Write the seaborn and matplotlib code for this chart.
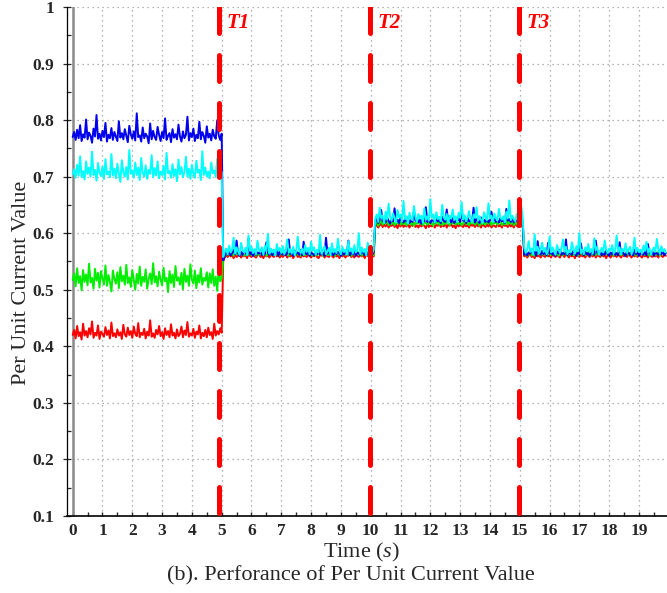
import numpy as np
import pandas as pd
import matplotlib
matplotlib.use('Agg')
import matplotlib.pyplot as plt
import seaborn as sns
from matplotlib.ticker import MultipleLocator

# ---------------------------------------------------------
# Per unit current (in 1/1000 p.u.), one sample every 0.05 s
# seg1: 0 - 5.00 s, seg2: 5.05 - 10.10 s, seg3: 10.15 - 15.10 s, seg4: 15.15 - 19.90 s
blue_seg1 = [770, 779, 765, 783, 768, 791, 763, 775, 769, 801, 766, 778, 772, 760, 785, 771, 809, 767, 776, 764,
             781, 770, 795, 762, 774, 768, 786, 765, 779, 771, 763, 798, 769, 777, 766, 784, 772, 761, 790, 775,
             767, 780, 764, 812, 770, 773, 762, 787, 768, 776, 771, 759, 794, 766, 781, 770, 765, 788, 774, 763,
             779, 768, 803, 765, 772, 777, 761, 784, 769, 775, 766, 792, 771, 762, 780, 768, 774, 806, 764, 777,
             770, 785, 763, 774, 768, 797, 766, 779, 772, 760, 789, 769, 776, 764, 783, 771, 767, 800, 773, 765,
             776]
blue_seg2 = [552, 560, 566, 562, 568, 561, 565, 571, 563, 587, 564, 560, 567, 562, 569, 565, 561, 591, 563, 566,
             560, 568, 562, 566, 564, 570, 561, 567, 563, 584, 565, 562, 569, 561, 566, 563, 572, 560, 567, 564,
             562, 568, 561, 565, 589, 563, 567, 560, 569, 564, 566, 562, 570, 561, 585, 565, 563, 568, 560, 566,
             564, 561, 567, 563, 571, 562, 566, 565, 560, 592, 564, 568, 562, 566, 561, 569, 563, 567, 565, 560,
             568, 562, 566, 564, 587, 561, 567, 563, 569, 560, 566, 564, 562, 570, 565, 561, 568, 563, 566, 564,
             562, 567]
blue_seg3 = [620, 627, 618, 624, 641, 621, 625, 619, 628, 622, 617, 626, 621, 644, 620, 624, 618, 627, 622, 619,
             625, 621, 628, 618, 623, 620, 639, 622, 626, 619, 624, 617, 627, 621, 646, 620, 625, 618, 623, 622,
             619, 626, 621, 624, 618, 629, 622, 620, 642, 621, 625, 619, 627, 618, 623, 621, 626, 620, 640, 622,
             624, 618, 627, 621, 623, 620, 645, 619, 625, 622, 618, 628, 621, 624, 620, 626, 619, 623, 638, 621,
             626, 620, 623, 619, 627, 621, 624, 618, 643, 622, 625, 620, 628, 619, 623, 621, 626, 618, 624, 622]
blue_seg4 = [562, 568, 561, 566, 564, 572, 563, 567, 560, 586, 565, 562, 569, 563, 566, 561, 583, 564, 567, 562,
             566, 560, 568, 564, 571, 562, 565, 563, 589, 561, 567, 564, 562, 569, 565, 560, 567, 563, 582, 566,
             561, 567, 563, 565, 560, 570, 564, 562, 587, 566, 563, 568, 561, 565, 562, 569, 564, 560, 566, 563,
             568, 562, 565, 561, 584, 564, 567, 563, 560, 569, 565, 562, 566, 561, 571, 563, 567, 560, 565, 564,
             562, 567, 561, 581, 565, 563, 568, 560, 566, 564, 562, 570, 563, 567, 561, 565]

cyan_seg1 = [704, 713, 698, 721, 702, 736, 699, 710, 695, 727, 705, 716, 700, 744, 703, 712, 693, 724, 707, 701,
             718, 696, 731, 704, 709, 699, 740, 702, 714, 697, 723, 706, 691, 729, 708, 700, 717, 695, 747, 705,
             711, 698, 725, 703, 716, 694, 733, 707, 700, 720, 696, 712, 705, 738, 699, 715, 702, 727, 697, 709,
             703, 719, 695, 742, 706, 710, 698, 722, 701, 713, 692, 730, 704, 717, 699, 708, 735, 700, 714, 696,
             721, 705, 698, 728, 707, 712, 694, 745, 703, 716, 700, 709, 697, 725, 706, 711, 699, 732, 704, 713,
             708]
cyan_seg2 = [558, 567, 573, 563, 578, 566, 571, 592, 564, 575, 568, 562, 583, 570, 566, 574, 561, 596, 569, 576,
             565, 572, 563, 587, 570, 567, 575, 562, 578, 568, 599, 564, 573, 566, 571, 561, 581, 569, 574, 565,
             577, 563, 570, 589, 566, 572, 564, 576, 561, 568, 594, 570, 565, 573, 562, 579, 567, 574, 563, 585,
             569, 575, 562, 571, 566, 597, 564, 570, 577, 563, 568, 574, 561, 582, 566, 572, 565, 590, 569, 563,
             576, 567, 571, 562, 586, 568, 573, 564, 579, 566, 570, 600, 563, 575, 567, 572, 561, 583, 569, 574,
             565, 571]
cyan_seg3 = [626, 633, 620, 645, 627, 631, 618, 638, 624, 652, 629, 622, 635, 626, 619, 641, 628, 633, 621, 657,
             625, 630, 617, 636, 627, 623, 648, 629, 620, 634, 626, 631, 618, 644, 624, 630, 622, 660, 627, 633,
             619, 637, 625, 629, 621, 650, 628, 624, 634, 618, 631, 626, 642, 623, 630, 620, 636, 627, 655, 624,
             632, 621, 628, 639, 625, 619, 633, 627, 646, 622, 630, 624, 618, 637, 629, 623, 653, 626, 631, 620,
             635, 627, 622, 643, 628, 624, 630, 619, 638, 626, 658, 623, 631, 625, 621, 634, 628, 624, 649, 627]
cyan_seg4 = [574, 565, 571, 586, 567, 573, 562, 598, 569, 576, 564, 571, 583, 567, 574, 563, 570, 594, 566, 575,
             568, 562, 579, 571, 565, 573, 589, 567, 576, 563, 570, 566, 584, 572, 564, 577, 568, 600, 565, 571,
             563, 575, 569, 581, 566, 572, 564, 591, 570, 576, 562, 568, 574, 566, 587, 571, 565, 573, 569, 579,
             564, 570, 596, 567, 575, 563, 572, 568, 582, 565, 571, 576, 563, 569, 592, 566, 574, 567, 571, 564,
             578, 569, 585, 566, 573, 562, 570, 575, 567, 590, 571, 564, 577, 568, 572, 566]

green_seg1 = [517, 529, 506, 538, 512, 524, 499, 535, 514, 527, 508, 546, 513, 521, 502, 537, 516, 530, 504, 533,
              520, 509, 543, 507, 526, 514, 497, 534, 519, 511, 531, 503, 540, 515, 525, 509, 544, 512, 522, 505,
              535, 517, 500, 528, 511, 541, 507, 523, 514, 536, 502, 519, 529, 510, 547, 513, 524, 506, 532, 518,
              508, 539, 515, 521, 496, 533, 512, 527, 505, 542, 516, 522, 509, 530, 501, 537, 514, 525, 507, 545,
              518, 511, 534, 503, 526, 513, 538, 509, 521, 516, 531, 504, 529, 512, 536, 507, 523, 498, 540, 515,
              520]
green_seg2 = [554, 560, 564, 561, 566, 562, 567, 560, 565, 563, 568, 561, 564, 566, 560, 563, 567, 562, 565, 561,
              566, 563, 560, 565, 562, 568, 561, 564, 566, 560, 563, 567, 562, 565, 561, 564, 568, 560, 563, 566,
              561, 565, 562, 567, 560, 564, 563, 566, 561, 568, 562, 565, 560, 564, 567, 561, 563, 566, 562, 565,
              560, 563, 567, 561, 565, 562, 566, 560, 564, 568, 561, 563, 565, 562, 567, 560, 564, 566, 561, 563,
              565, 561, 564, 567, 562, 566, 560, 563, 565, 561, 568, 562, 564, 560, 566, 563, 561, 565, 567, 562,
              564, 561]
green_seg3 = [616, 620, 613, 619, 622, 615, 621, 617, 623, 614, 618, 616, 622, 614, 620, 617, 623, 615, 619, 616,
              621, 614, 618, 622, 615, 620, 613, 619, 617, 623, 616, 620, 614, 621, 618, 615, 622, 616, 619, 613,
              620, 617, 623, 615, 619, 614, 621, 616, 622, 618, 614, 620, 617, 623, 615, 619, 616, 621, 614, 618,
              622, 616, 619, 614, 621, 617, 623, 615, 618, 620, 613, 622, 616, 619, 615, 621, 617, 623, 614, 620,
              617, 621, 615, 619, 622, 614, 618, 616, 623, 615, 620, 617, 621, 614, 619, 616, 622, 618, 615, 620]
green_seg4 = [562, 566, 560, 565, 567, 561, 564, 560, 566, 563, 568, 561, 565, 562, 567, 560, 564, 566, 561, 563,
              566, 562, 565, 560, 568, 563, 561, 566, 564, 560, 567, 562, 565, 561, 563, 567, 560, 564, 566, 562,
              565, 561, 563, 567, 560, 564, 562, 566, 561, 568, 563, 565, 560, 564, 567, 562, 566, 561, 563, 565,
              560, 566, 562, 564, 568, 561, 565, 563, 560, 567, 562, 566, 564, 561, 565, 560, 567, 563, 562, 566,
              563, 561, 566, 564, 560, 567, 562, 565, 561, 563, 568, 560, 564, 566, 562, 565]

red_seg1 = [420, 429, 414, 436, 418, 425, 412, 440, 419, 427, 416, 432, 421, 444, 415, 424, 419, 437, 413, 426,
            422, 417, 434, 420, 428, 414, 442, 418, 423, 416, 430, 419, 425, 413, 438, 421, 417, 433, 420, 427,
            415, 435, 422, 418, 441, 416, 424, 420, 431, 414, 426, 419, 446, 417, 423, 415, 429, 421, 436, 418,
            425, 413, 432, 420, 427, 416, 439, 419, 424, 414, 430, 418, 422, 435, 416, 428, 420, 443, 417, 423,
            419, 431, 415, 426, 421, 437, 414, 424, 418, 429, 416, 433, 420, 425, 413, 440, 419, 427, 421, 432,
            424]
red_seg2 = [550, 557, 561, 558, 563, 559, 561, 556, 562, 558, 560, 564, 557, 561, 559, 562, 556, 563, 560, 558,
            562, 559, 557, 561, 564, 558, 560, 556, 563, 559, 561, 557, 562, 560, 558, 564, 559, 561, 557, 562,
            558, 561, 563, 557, 560, 559, 562, 556, 561, 564, 558, 560, 557, 563, 559, 561, 558, 562, 560, 557,
            561, 559, 563, 558, 556, 562, 560, 564, 557, 561, 559, 558, 563, 560, 557, 562, 559, 561, 556, 563,
            559, 562, 557, 561, 560, 564, 558, 561, 557, 563, 560, 558, 562, 559, 561, 556, 563, 560, 558, 562,
            560, 559]
red_seg3 = [612, 615, 610, 614, 617, 611, 615, 612, 616, 610, 614, 613, 617, 611, 615, 609, 616, 612, 618, 611,
            614, 612, 617, 610, 615, 613, 618, 611, 614, 610, 616, 612, 615, 613, 609, 617, 611, 614, 612, 616,
            610, 615, 613, 617, 611, 614, 612, 618, 610, 615, 613, 616, 611, 614, 609, 617, 612, 615, 613, 611,
            616, 612, 614, 610, 617, 613, 615, 611, 618, 612, 614, 610, 616, 613, 611, 615, 612, 617, 610, 614,
            613, 611, 616, 612, 615, 610, 617, 613, 614, 611, 616, 612, 615, 610, 618, 613, 611, 614, 612, 615]
red_seg4 = [559, 562, 557, 561, 564, 558, 560, 556, 563, 559, 561, 557, 562, 560, 558, 564, 559, 561, 557, 563,
            560, 558, 562, 559, 557, 563, 561, 558, 564, 560, 557, 562, 559, 561, 556, 563, 560, 558, 562, 559,
            561, 557, 563, 560, 558, 562, 559, 564, 557, 561, 560, 558, 563, 559, 561, 556, 562, 560, 557, 563,
            559, 561, 558, 562, 560, 557, 564, 559, 561, 558, 563, 560, 557, 562, 559, 561, 558, 563, 560, 557,
            562, 559, 561, 557, 563, 560, 558, 562, 559, 561, 557, 564, 560, 558, 562, 560]

curve_names = ['I_red', 'I_green', 'I_blue', 'I_cyan']   # draw order: cyan on top
curve_colors = ['#ff0000', '#00ee00', '#0000ee', '#00ffff']
event_times = [4.92, 9.99, 14.99]
event_labels = ['T1', 'T2', 'T3']
x_ticks = list(range(0, 20))
y_ticks = [0.1, 0.2, 0.3, 0.4, 0.5, 0.6, 0.7, 0.8, 0.9, 1.0]
y_ticklabels = ['0.1', '0.2', '0.3', '0.4', '0.5', '0.6', '0.7', '0.8', '0.9', '1']

# ---------------------------------------------------------
# 樣式
sns.set_style('white')
plt.rcParams['font.family'] = ['Liberation Serif', 'DejaVu Serif']
plt.rcParams['mathtext.fontset'] = 'custom'
plt.rcParams['mathtext.rm'] = 'Liberation Serif'
plt.rcParams['mathtext.it'] = 'Liberation Serif:italic'

segs = {
    'I_red': red_seg1 + red_seg2 + red_seg3 + red_seg4,
    'I_green': green_seg1 + green_seg2 + green_seg3 + green_seg4,
    'I_blue': blue_seg1 + blue_seg2 + blue_seg3 + blue_seg4,
    'I_cyan': cyan_seg1 + cyan_seg2 + cyan_seg3 + cyan_seg4,
}
frames = []
for name in curve_names:
    vals = np.array(segs[name]) / 1000.0
    time_s = np.arange(len(vals)) / 20.0   # sample index -> seconds
    frames.append(pd.DataFrame({'time': time_s, 'value': vals, 'curve': name}))
df = pd.concat(frames, ignore_index=True)

W, H = 667, 593
fig = plt.figure(figsize=(W / 100, H / 100), dpi=100)
ax = fig.add_axes([66.7 / W, 1 - 516 / H, (W - 66.7) / W, (516 - 7) / H])

sns.lineplot(data=df, x='time', y='value', hue='curve', hue_order=curve_names,
             palette=curve_colors, estimator=None, linewidth=1.4, legend=False,
             ax=ax, zorder=3)

# x = 0 的灰色參考線
ax.axvline(0, color='#8a8a8a', lw=1.8, zorder=2)

# 事件線 T1 / T2 / T3
for t, lab in zip(event_times, event_labels):
    ax.plot([t, t], [1.0, 0.1], color='red', lw=3.6, dashes=(5.2, 4.4),
            dash_capstyle='round', zorder=5)
    ax.text(t + 0.25, 0.971, lab, color='red', fontsize=15, fontweight='bold',
            fontstyle='italic', ha='left', va='center', zorder=6)

ax.set_xlim(-0.2, 19.94)
ax.set_ylim(0.1, 1.0)
ax.set_xticks(x_ticks)
ax.set_xticklabels([str(v) for v in x_ticks])
ax.xaxis.set_minor_locator(MultipleLocator(0.5))
ax.set_yticks(y_ticks)
ax.set_yticklabels(y_ticklabels)
ax.yaxis.set_minor_locator(MultipleLocator(0.05))

ax.grid(True, which='major', color='#9a9a9a', linestyle=(0, (1, 3)), lw=0.9)
ax.set_axisbelow(True)
for side in ['top', 'right']:
    ax.spines[side].set_visible(False)
ax.spines['left'].set_color('black')
ax.spines['left'].set_linewidth(0.9)
ax.spines['bottom'].set_color('black')
ax.spines['bottom'].set_linewidth(1.2)

ax.tick_params(axis='x', which='both', direction='in', length=3, width=1,
               labelsize=12.5, pad=5, bottom=True)
ax.tick_params(axis='y', which='major', direction='inout', length=6, width=0.9,
               labelsize=12.5, pad=6, left=True)
ax.tick_params(axis='y', which='minor', direction='in', length=3, width=0.9, left=True)
for lbl in ax.get_xticklabels() + ax.get_yticklabels():
    lbl.set_fontweight('bold')

ax.set_xlabel('')
ax.set_ylabel('')
fig.text(22 / W, 1 - 283 / H, 'Per Unit Current Value', rotation=90,
         ha='center', va='center', fontsize=16)
fig.text(362 / W, 1 - 552 / H, 'Time ($\\mathit{s}$)', ha='center', va='center', fontsize=16)
fig.text(351 / W, 1 - 576 / H, '(b). Perforance of Per Unit Current Value',
         ha='center', va='center', fontsize=16)

fig.savefig('out.png', dpi=100)
